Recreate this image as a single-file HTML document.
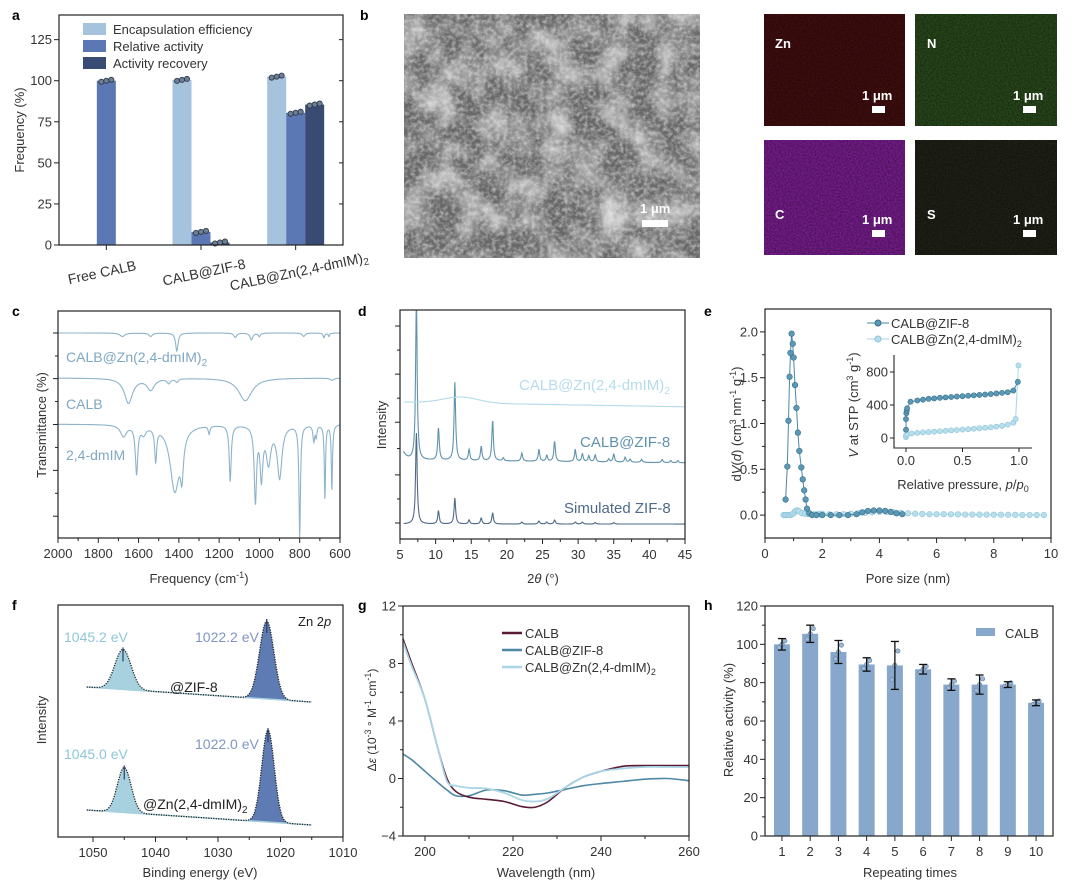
<!DOCTYPE html>
<html><head><meta charset="utf-8">
<style>
html,body{margin:0;padding:0;background:#fff;}
svg{display:block;font-family:"Liberation Sans",Arial,sans-serif;}
</style></head>
<body>
<svg id="fig" width="1080" height="886" viewBox="0 0 1080 886" xmlns="http://www.w3.org/2000/svg">
<defs>
<filter id="sem" x="0" y="0" width="100%" height="100%">
<feTurbulence type="fractalNoise" baseFrequency="0.035" numOctaves="5" seed="3"/>
<feColorMatrix type="matrix" values="0 0 0 0 0.74  0 0 0 0 0.74  0 0 0 0 0.74  1.7 0 0 0 -0.6"/>
</filter>
<filter id="sem2" x="0" y="0" width="100%" height="100%">
<feTurbulence type="fractalNoise" baseFrequency="0.25" numOctaves="2" seed="11"/>
<feColorMatrix type="matrix" values="0 0 0 0 0.8  0 0 0 0 0.8  0 0 0 0 0.8  1.2 0 0 0 -0.45"/>
</filter>
<filter id="noise" x="0" y="0" width="100%" height="100%">
<feTurbulence type="fractalNoise" baseFrequency="0.6" numOctaves="2" seed="7"/>
<feColorMatrix type="matrix" values="0 0 0 0 0  0 0 0 0 0  0 0 0 0 0  0 0 0 0.6 0"/>
</filter>
</defs>
<g>
<rect x="404" y="14" width="296" height="244" fill="#686868"/>
<rect x="404" y="14" width="296" height="244" filter="url(#sem)"/>
<rect x="404" y="14" width="296" height="244" filter="url(#sem2)"/>
<text x="640" y="213" fill="#fff" font-size="13" font-weight="bold">1 μm</text>
<rect x="642" y="220" width="26" height="7" fill="#fff"/>
<rect x="764" y="14" width="141" height="112" fill="#4d1012"/>
<rect x="915" y="14" width="142" height="112" fill="#2f5520"/>
<rect x="764" y="140" width="141" height="115" fill="#8c22a6"/>
<rect x="915" y="140" width="142" height="115" fill="#25261a"/>
<rect x="764" y="14" width="141" height="112" filter="url(#noise)"/>
<rect x="915" y="14" width="142" height="112" filter="url(#noise)"/>
<rect x="764" y="140" width="141" height="115" filter="url(#noise)"/>
<rect x="915" y="140" width="142" height="115" filter="url(#noise)"/>
<text x="775" y="48" fill="#fff" font-size="13" font-weight="bold">Zn</text>
<text x="927" y="48" fill="#fff" font-size="13" font-weight="bold">N</text>
<text x="775" y="219" fill="#fff" font-size="13" font-weight="bold">C</text>
<text x="927" y="219" fill="#fff" font-size="13" font-weight="bold">S</text>
<text x="862" y="100" fill="#fff" font-size="13" font-weight="bold">1 μm</text>
<text x="1013" y="100" fill="#fff" font-size="13" font-weight="bold">1 μm</text>
<text x="862" y="224" fill="#fff" font-size="13" font-weight="bold">1 μm</text>
<text x="1013" y="224" fill="#fff" font-size="13" font-weight="bold">1 μm</text>
<rect x="872" y="106" width="13" height="7" fill="#fff"/>
<rect x="1023" y="106" width="13" height="7" fill="#fff"/>
<rect x="872" y="230" width="13" height="7" fill="#fff"/>
<rect x="1023" y="230" width="13" height="7" fill="#fff"/>
</g>
</svg>
<script>
// ---------- DATA ----------
const aCategories = ['Free CALB','CALB@ZIF-8','CALB@Zn(2,4-dmIM)2'];
const aEncapsulation = [null, 100.5, 102.5];
const aRelActivity = [100, 8, 80.5];
const aRecovery = [null, 1.5, 85.5];
const aTicks = [0,25,50,75,100,125];
const cZnPeaks = [[1680,1.5,15],[1410,8,7],[1540,1.5,10],[1120,2,8],[1040,3,8],[1000,1.5,6],[780,1.5,8],[680,2,5],[655,1.5,4]];
const cCalbPeaks = [[1650,11,25],[1540,5,22],[1450,2,10],[1410,1.5,8],[1070,10,40],[640,1,10]];
const cDmimPeaks = [[1675,5,18],[1610,21,7],[1575,3.5,14],[1515,14.5,6],[1420,29,28],[1385,16,9],[1250,3.5,5],[1145,24.7,6],[1020,33,7],[990,22,8],[955,16,14],[900,23,14],[800,49,4.5],[730,7,5],[718,5,4],[675,33,3.5],[640,29,3.5]];
const cOffsets = [90.3, 70.5, 50.2];
const dSimPeaks = [[7.3,91],[10.4,13],[12.7,26],[14.7,4],[16.4,6],[18.0,11],[22.1,2],[24.5,3],[25.6,2],[26.7,4],[29.6,2],[30.6,2],[32.4,1.5],[35,1.5]];
const dZifPeaks = [[7.3,160],[10.4,32],[12.7,78],[14.7,11],[16.4,14],[18.0,40],[19.5,3],[22.1,8],[24.5,12],[25.6,6],[26.7,20],[29.6,12],[30.6,8],[31.5,6],[32.4,7],[34.3,3],[35.0,8],[36.6,5],[37.3,3],[38.9,3],[41.8,3],[43,2],[44,2]];
const dOffsets = [15, 79, 137];
const eZifX = [0.72,0.78,0.82,0.86,0.89,0.93,0.97,1.0,1.05,1.1,1.15,1.2,1.27,1.32,1.37,1.42,1.47,1.55,1.65,1.8,2.0,2.3,2.6,2.9,3.2,3.4,3.6,3.8,4.0,4.2,4.4,4.6,4.8];
const eZifY = [0.17,0.53,1.03,1.51,1.77,1.98,1.87,1.72,1.42,1.17,0.9,0.7,0.52,0.39,0.27,0.17,0.07,0.02,0.0,0.0,0.0,0.0,0.0,0.0,0.01,0.03,0.045,0.05,0.05,0.045,0.035,0.02,0.01];
const eZnX = [0.65,0.7,0.75,0.8,0.85,0.9,0.95,1.0,1.05,1.1,1.15,1.2,1.3,1.4,1.5,1.6,1.7,1.8,1.9,2.0,2.25,2.5,2.75,3.0,3.25,3.5,3.75,4.0,4.25,4.5,4.75,5.0,5.25,5.5,5.75,6.0,6.25,6.5,6.75,7.0,7.25,7.5,7.75,8.0,8.25,8.5,8.75,9.0,9.25,9.5,9.75];
const eZnY = [0,0,0,0,0,0,0.01,0.02,0.04,0.05,0.05,0.04,0.02,0.015,0.01,0.01,0.01,0.01,0.015,0.015,0.01,0.01,0.01,0.015,0.02,0.025,0.03,0.035,0.035,0.03,0.025,0.02,0.015,0.012,0.01,0.01,0.01,0.008,0.008,0.006,0.006,0.005,0.005,0.004,0.004,0.003,0.003,0.002,0.002,0.001,0.001];
const eInsetZifP = [0,0,0.003,0.006,0.01,0.04,0.1,0.15,0.2,0.25,0.3,0.35,0.4,0.45,0.5,0.55,0.6,0.65,0.7,0.75,0.8,0.85,0.9,0.95,0.99];
const eInsetZifV = [100,230,300,330,360,440,455,465,475,480,487,492,497,502,507,512,517,522,527,533,540,547,555,575,680];
const eInsetZnP = [0,0,0.01,0.05,0.1,0.15,0.2,0.25,0.3,0.35,0.4,0.45,0.5,0.55,0.6,0.65,0.7,0.75,0.8,0.85,0.9,0.95,0.97,0.995];
const eInsetZnV = [10,30,45,55,62,68,72,77,82,87,92,97,102,107,112,118,124,130,138,148,162,185,230,880];
const fZifPeaks = [[1045.2,40,1.3],[1022.2,78,1.15]];
const fZnPeaks = [[1045.0,45,1.1],[1022.0,92,1.0]];
const fBaseTop = [150, 135];
const fBaseBot = [27, 12];
const gWl = [195,197,200,203,205,207,210,214,218,222,225,228,232,236,240,245,250,255,260];
const gCalb = [9.7,8.0,5.5,2.0,0.0,-0.9,-1.3,-1.45,-1.6,-1.95,-2.0,-1.6,-0.6,0.1,0.5,0.85,0.9,0.9,0.9];
const gZn = [9.5,7.8,5.5,2.0,-0.2,-0.5,-0.65,-0.7,-1.0,-1.5,-1.6,-1.4,-0.6,0.1,0.5,0.7,0.8,0.8,0.8];
const gZif = [1.7,1.3,0.5,-0.3,-0.8,-1.2,-1.2,-0.8,-0.85,-1.15,-1.1,-1.0,-0.75,-0.5,-0.35,-0.2,-0.05,0.0,-0.15];
const hTimes = [1,2,3,4,5,6,7,8,9,10];
const hValues = [100,105.5,96,89.5,89,87,79,79,79,69.5];
const hErrors = [3,4.5,6,3.5,12.5,2.5,3,5,1.5,1.5];

// ---------- HELPERS ----------
const NS='http://www.w3.org/2000/svg';
const svg=document.getElementById('fig');
const TC='#333';
function mk(tag,name,attrs,parent){
  const el=document.createElementNS(NS,tag);
  
  
  for(const k in attrs) el.setAttribute(k,attrs[k]);
  (parent||svg).appendChild(el);
  return el;
}
function txt(name,x,y,html,o){
  o=o||{};
  const el=mk('text',name,{x:x,y:y,'font-size':o.fs||13,fill:o.fill||TC,'text-anchor':o.anchor||'start'});
  if(o.bold) el.setAttribute('font-weight','bold');
  if(o.rot) el.setAttribute('transform','rotate('+o.rot+' '+x+' '+y+')');
  el.innerHTML=html;
  return el;
}
function lin(d0,d1,r0,r1){return v=>r0+(v-d0)/(d1-d0)*(r1-r0);}
function frame(name,L,T,R,B){mk('rect',name,{x:L,y:T,width:R-L,height:B-T,fill:'none',stroke:'#222','stroke-width':1.2});}
function xTicks(pre,sx,vals,B,T,minor,lab,fs){
  vals.forEach(v=>{const x=sx(v);
    mk('line',pre+'-xtick',{x1:x,x2:x,y1:B,y2:B+5,stroke:'#222'});
    txt(pre+'-xtick-label',x,B+20,lab?lab(v):v,{anchor:'middle',fs:fs||13});});
  (minor||[]).forEach(v=>{const x=sx(v);mk('line',pre+'-xminor',{x1:x,x2:x,y1:B,y2:B+3,stroke:'#222'});});
}
function yTicks(pre,sy,vals,L,minor,lab,noLabel){
  vals.forEach(v=>{const y=sy(v);
    mk('line',pre+'-ytick',{x1:L-5,x2:L,y1:y,y2:y,stroke:'#222'});
    if(!noLabel) txt(pre+'-ytick-label',L-7,y+4.5,lab?lab(v):v,{anchor:'end'});});
  (minor||[]).forEach(v=>{const y=sy(v);mk('line',pre+'-yminor',{x1:L-3,x2:L,y1:y,y2:y,stroke:'#222'});});
}
function pathD(xs,ys,sx,sy){return xs.map((x,i)=>(i?'L':'M')+sx(x).toFixed(1)+','+sy(ys[i]).toFixed(1)).join('');}
function smoothD(xs,ys,sx,sy){
  const P=xs.map((x,i)=>[sx(x),sy(ys[i])]);let d='M'+P[0][0]+','+P[0][1];
  for(let i=0;i<P.length-1;i++){const p0=P[i-1]||P[i],p1=P[i],p2=P[i+1],p3=P[i+2]||p2;
    d+='C'+(p1[0]+(p2[0]-p0[0])/6)+','+(p1[1]+(p2[1]-p0[1])/6)+' '+(p2[0]-(p3[0]-p1[0])/6)+','+(p2[1]-(p3[1]-p1[1])/6)+' '+p2[0]+','+p2[1];}
  return d;
}
[['a',12,20],['c',12,316],['d',358,316],['e',704,316],['f',12,610],['g',358,610],['h',704,610],['b',360,20]].forEach(l=>txt('panel-label-'+l[0],l[1],l[2],l[0],{bold:true,fs:14,fill:'#000'}));

// ---------- PANEL A ----------
(function(){
  const L=59,T=15,R=343,B=245;
  const sx=lin(-0.5,2.5,L,R), sy=lin(0,140,B,T);
  const bw=19;
  const series=[[aEncapsulation,'#a6c3de','encapsulation'],[aRelActivity,'#5b77b4','relative-activity'],[aRecovery,'#3a4b73','activity-recovery']];
  aCategories.forEach((c,i)=>{
    const present=series.filter(s=>s[0][i]!=null);
    present.forEach((s,j)=>{
      const x=sx(i)-present.length*bw/2+j*bw, v=s[0][i];
      mk('rect','bar-'+s[2],{x:x,y:sy(v),width:bw,height:B-sy(v),fill:s[1]});
      [-5,0,5].forEach((dx,k)=>mk('circle','data-point',{cx:x+bw/2+dx,cy:sy(v+(k-1)*0.6),r:2.6,fill:'#6d7f94',stroke:'#2a3442','stroke-width':0.8}));
    });
  });
  frame('panel-a-axes',L,T,R,B);
  yTicks('a',sy,aTicks,L);
  aTicks.forEach(v=>mk('line','a-ytick-right',{x1:R-4,x2:R,y1:sy(v),y2:sy(v),stroke:'#222'}));
  aCategories.forEach((c,i)=>mk('line','a-xtick',{x1:sx(i),x2:sx(i),y1:B,y2:B+5,stroke:'#222'}));
  txt('x-label-free',103,277,'Free CALB',{anchor:'middle',rot:-12,fs:14});
  txt('x-label-zif',205,277,'CALB@ZIF-8',{anchor:'middle',rot:-12,fs:14});
  txt('x-label-zn',300,276,'CALB@Zn(2,4-dmIM)<tspan font-size="10" dy="3">2</tspan>',{anchor:'middle',rot:-12,fs:14});
  txt('a-y-title',24,130,'Frequency (%)',{anchor:'middle',rot:-90,fs:13});
  series.forEach((s,i)=>{
    mk('rect','legend-swatch-'+s[2],{x:83,y:23+i*17,width:23,height:12,fill:s[1]});
    txt('legend-'+s[2],113,34+i*17,['Encapsulation efficiency','Relative activity','Activity recovery'][i],{fs:13});
  });
})();

// ---------- PANEL C ----------
(function(){
  const L=58,T=311,R=340,B=538;
  const sx=lin(2000,600,L,R), sy=lin(0,100,B,T);
  [cZnPeaks,cCalbPeaks,cDmimPeaks].forEach((pk,k)=>{
    const xs=[],ys=[];
    for(let x=2000;x>=600;x-=1.5){let y=cOffsets[k];pk.forEach(p=>{y-=p[1]*p[2]*p[2]/((x-p[0])*(x-p[0])+p[2]*p[2]);});xs.push(x);ys.push(y);}
    mk('path','ftir-trace-'+k,{d:pathD(xs,ys,sx,sy),fill:'none',stroke:'#8db4cb','stroke-width':1.1});
  });
  frame('panel-c-axes',L,T,R,B);
  xTicks('c',sx,[2000,1800,1600,1400,1200,1000,800,600],B,T,[1900,1700,1500,1300,1100,900,700]);
  yTicks('c',sy,[90.3,70.2,50,29.8,9.6],L,[80.2,60.1,39.9,19.7],null,true);
  txt('c-x-title',199,583,'Frequency (cm<tspan font-size="9" dy="-5">-1</tspan><tspan dy="5">)</tspan>',{anchor:'middle'});
  txt('c-y-title',46,425,'Transmittance (%)',{anchor:'middle',rot:-90});
  txt('label-zn',66,362,'CALB@Zn(2,4-dmIM)<tspan font-size="10" dy="4">2</tspan>',{fill:'#7fa8c2',fs:14});
  txt('label-calb',66,409,'CALB',{fill:'#7fa8c2',fs:14});
  txt('label-dmim',66,460,'2,4-dmIM',{fill:'#7fa8c2',fs:14});
})();

// ---------- PANEL D ----------
(function(){
  const L=400,T=310,R=685,B=539;
  const sx=lin(5,45,L,R), sy=lin(0,229,B,T);
  const clip=mk('clipPath','d-clip',{id:'dclip'});mk('rect','d-clip-rect',{x:L,y:T,width:R-L,height:B-T},clip);
  const g=mk('g','d-traces',{'clip-path':'url(#dclip)'});
  const defs=[[dSimPeaks,dOffsets[0],'#4e6a89','simulated'],[dZifPeaks,dOffsets[1],'#5f93ad','zif8']];
  defs.forEach(dd=>{const xs=[],ys=[];
    for(let x=5.5;x<=45;x+=0.04){let y=dd[1]-(x-5)*0.07*(dd[3]=='zif8'?1:0.02);if(dd[3]=='zif8')y+=8*Math.exp(-(x-5.5)*2);dd[0].forEach(p=>{const w=0.13;y+=p[1]*w*w/((x-p[0])*(x-p[0])+w*w);});xs.push(x);ys.push(y);}
    mk('path','xrd-'+dd[3],{d:pathD(xs,ys,sx,sy),fill:'none',stroke:dd[2],'stroke-width':1.1},g);});
  {const xs=[],ys=[];for(let x=5.5;x<=45;x+=0.1){let y=dOffsets[2]+6*Math.exp(-Math.pow((x-13.5)/3.5,2))-(x-5)*0.12;xs.push(x);ys.push(y);}
   mk('path','xrd-zn',{d:pathD(xs,ys,sx,sy),fill:'none',stroke:'#b3dbeb','stroke-width':1.1},g);}
  frame('panel-d-axes',L,T,R,B);
  xTicks('d',sx,[5,10,15,20,25,30,35,40,45],B,T,[7.5,12.5,17.5,22.5,27.5,32.5,37.5,42.5]);
  yTicks('d',lin(0,1,B,T),[0.07,0.28,0.51,0.72,0.93],L,[0.175,0.395,0.615,0.825],null,true);
  txt('d-x-title',543,583,'2<tspan font-style="italic">θ</tspan> (°)',{anchor:'middle'});
  txt('d-y-title',386,425,'Intensity',{anchor:'middle',rot:-90});
  txt('label-d-zn',519,390,'CALB@Zn(2,4-dmIM)<tspan font-size="10" dy="4">2</tspan>',{fill:'#b5dcec',fs:15});
  txt('label-d-zif',580,447,'CALB@ZIF-8',{fill:'#5f93ad',fs:15});
  txt('label-d-sim',564,513,'Simulated ZIF-8',{fill:'#4e6a89',fs:15});
})();

// ---------- PANEL E ----------
(function(){
  const L=765,T=309,R=1051,B=538;
  const sx=lin(0,10,L,R), sy=lin(-0.25,2.25,B,T);
  mk('path','psd-zn-line',{d:pathD(eZnX,eZnY,sx,sy),fill:'none',stroke:'#a9d6e8','stroke-width':1});
  eZnX.forEach((x,i)=>mk('circle','psd-zn-point',{cx:sx(x),cy:sy(eZnY[i]),r:2.8,fill:'#b8deec',stroke:'#8cc4da','stroke-width':0.6}));
  mk('path','psd-zif-line',{d:pathD(eZifX,eZifY,sx,sy),fill:'none',stroke:'#4a88a6','stroke-width':1});
  eZifX.forEach((x,i)=>mk('circle','psd-zif-point',{cx:sx(x),cy:sy(eZifY[i]),r:2.8,fill:'#5b98b4',stroke:'#356f8a','stroke-width':0.6}));
  frame('panel-e-axes',L,T,R,B);
  xTicks('e',sx,[0,2,4,6,8,10],B,T,[1,3,5,7,9]);
  yTicks('e',sy,[0,0.5,1,1.5,2],L,[0.25,0.75,1.25,1.75],v=>v.toFixed(1));
  txt('e-x-title',908,583,'Pore size (nm)',{anchor:'middle'});
  txt('e-y-title',741,424,'d<tspan font-style="italic">V</tspan>(<tspan font-style="italic">d</tspan>) (cm<tspan font-size="9" dy="-5">3</tspan><tspan dy="5"> nm</tspan><tspan font-size="9" dy="-5">-1</tspan><tspan dy="5"> g</tspan><tspan font-size="9" dy="-5">-1</tspan><tspan dy="5">)</tspan>',{anchor:'middle',rot:-90});
  mk('line','legend-e-zif-line',{x1:867,x2:889,y1:323,y2:323,stroke:'#4a88a6'});
  mk('circle','legend-e-zif-marker',{cx:878,cy:323,r:3,fill:'#5b98b4',stroke:'#356f8a'});
  txt('legend-e-zif',891,328,'CALB@ZIF-8',{fs:13});
  mk('line','legend-e-zn-line',{x1:867,x2:889,y1:339,y2:339,stroke:'#a9d6e8'});
  mk('circle','legend-e-zn-marker',{cx:878,cy:339,r:3,fill:'#b8deec',stroke:'#8cc4da'});
  txt('legend-e-zn',891,344,'CALB@Zn(2,4-dmIM)<tspan font-size="9" dy="3">2</tspan>',{fs:13});
  const iL=894,iT=355,iR=1032,iB=448;
  const ix=lin(0,1,906,1019), iy=lin(0,800,438,372);
  mk('path','inset-zn-line',{d:pathD(eInsetZnP,eInsetZnV,ix,iy),fill:'none',stroke:'#a9d6e8'});
  eInsetZnP.forEach((p,i)=>mk('circle','inset-zn-point',{cx:ix(p),cy:iy(eInsetZnV[i]),r:2.6,fill:'#b8deec',stroke:'#8cc4da','stroke-width':0.6}));
  mk('path','inset-zif-line',{d:pathD(eInsetZifP,eInsetZifV,ix,iy),fill:'none',stroke:'#4a88a6'});
  eInsetZifP.forEach((p,i)=>mk('circle','inset-zif-point',{cx:ix(p),cy:iy(eInsetZifV[i]),r:2.6,fill:'#5b98b4',stroke:'#356f8a','stroke-width':0.6}));
  mk('path','inset-axes',{d:'M'+iL+','+iT+'V'+iB+'H'+iR,fill:'none',stroke:'#222','stroke-width':1.1});
  [0,0.5,1].forEach(v=>{mk('line','inset-xtick',{x1:ix(v),x2:ix(v),y1:iB,y2:iB+4,stroke:'#222'});txt('inset-xtick-label',ix(v),iB+17,v.toFixed(1),{anchor:'middle'});});
  [0,400,800].forEach(v=>{mk('line','inset-ytick',{x1:iL-4,x2:iL,y1:iy(v),y2:iy(v),stroke:'#222'});txt('inset-ytick-label',iL-6,iy(v)+4.5,v,{anchor:'end'});});
  txt('inset-x-title',963,489,'Relative pressure, <tspan font-style="italic">p</tspan>/<tspan font-style="italic">p</tspan><tspan font-size="9" dy="3">0</tspan>',{anchor:'middle'});
  txt('inset-y-title',858,405,'<tspan font-style="italic">V</tspan> at STP (cm<tspan font-size="9" dy="-5">3</tspan><tspan dy="5"> g</tspan><tspan font-size="9" dy="-5">-1</tspan><tspan dy="5">)</tspan>',{anchor:'middle',rot:-90});
})();

// ---------- PANEL F ----------
(function(){
  const L=58,T=605,R=343,B=837;
  const sx=lin(1055.6,1010,L,R), sy=lin(0,232,B,T);
  [[fZifPeaks,fBaseTop,'zif'],[fZnPeaks,fBaseBot,'zn']].forEach(dd=>{
    const base=x=>dd[1][0]+(x-1051)/(1015-1051)*(dd[1][1]-dd[1][0]);
    const pk=(p,x)=>p[1]*Math.exp(-Math.pow((x-p[0])/p[2],2)/2);
    dd[0].forEach((p,k)=>{
      const xs=[],ys=[];for(let x=p[0]+6;x>=p[0]-6;x-=0.1){xs.push(x);ys.push(base(x)+pk(p,x));}
      const d=pathD(xs,ys,sx,sy)+'L'+sx(p[0]-6)+','+sy(base(p[0]-6))+'L'+sx(p[0]+6)+','+sy(base(p[0]+6))+'Z';
      mk('path','xps-fill-'+dd[2]+'-'+k,{d:d,fill:k?'#5e7bb3':'#a7d1df',stroke:'none'});
      mk('line','xps-peak-marker',{x1:sx(p[0]),x2:sx(p[0]),y1:sy(base(p[0])+p[1]+2),y2:sy(base(p[0])+p[1]-12),stroke:'#2a3a66','stroke-width':1.2});
    });
    const xs=[],ys=[];for(let x=1051;x>=1015;x-=0.15){let y=base(x);dd[0].forEach(p=>y+=pk(p,x));xs.push(x);ys.push(y);}
    mk('path','xps-baseline-'+dd[2],{d:pathD([1051,1015],[base(1051),base(1015)],sx,sy),stroke:'#a7d1df','stroke-width':1.5,fill:'none'});
    mk('path','xps-data-'+dd[2],{d:pathD(xs,ys,sx,sy),fill:'none',stroke:'#222','stroke-width':1.3,'stroke-dasharray':'1.2 1.3'});
  });
  frame('panel-f-axes',L,T,R,B);
  xTicks('f',sx,[1050,1040,1030,1020,1010],B,T,[1045,1035,1025,1015]);
  txt('f-x-title',200,877,'Binding energy (eV)',{anchor:'middle'});
  txt('f-y-title',46,720,'Intensity',{anchor:'middle',rot:-90});
  txt('label-1045-2',64,642,'1045.2 eV',{fill:'#8ec6db',fs:14});
  txt('label-1022-2',195,642,'1022.2 eV',{fill:'#7f95c4',fs:14});
  txt('label-zn2p',298,626,'Zn 2<tspan font-style="italic">p</tspan>',{fill:'#222',fs:13});
  txt('label-at-zif',170,692,'@ZIF-8',{fill:'#222',fs:14});
  txt('label-1022-0',195,749,'1022.0 eV',{fill:'#7f95c4',fs:14});
  txt('label-1045-0',64,759,'1045.0 eV',{fill:'#8ec6db',fs:14});
  txt('label-at-zn',143,809,'@Zn(2,4-dmIM)<tspan font-size="10" dy="4">2</tspan>',{fill:'#222',fs:14});
})();

// ---------- PANEL G ----------
(function(){
  const L=403,T=606,R=689,B=836;
  const sx=lin(195,260,L,R), sy=lin(-4,12,B,T);
  mk('path','cd-zif',{d:smoothD(gWl,gZif,sx,sy),fill:'none',stroke:'#4f88a4','stroke-width':1.6});
  mk('path','cd-calb',{d:smoothD(gWl,gCalb,sx,sy),fill:'none',stroke:'#5a1a36','stroke-width':1.6});
  mk('path','cd-zn',{d:smoothD(gWl,gZn,sx,sy),fill:'none',stroke:'#a9d5e6','stroke-width':1.8});
  frame('panel-g-axes',L,T,R,B);
  xTicks('g',sx,[200,220,240,260],B,T,[210,230,250]);
  yTicks('g',sy,[-4,0,4,8,12],L,[-2,2,6,10],v=>v<0?'\u2212'+(-v):v);
  txt('g-x-title',546,877,'Wavelength (nm)',{anchor:'middle'});
  txt('g-y-title',376,720,'Δ<tspan font-style="italic">ε</tspan> (10<tspan font-size="9" dy="-5">-3</tspan><tspan dy="5"> ° M</tspan><tspan font-size="9" dy="-5">-1</tspan><tspan dy="5"> cm</tspan><tspan font-size="9" dy="-5">-1</tspan><tspan dy="5">)</tspan>',{anchor:'middle',rot:-90,fs:12});
  [['#5a1a36','CALB'],['#4f88a4','CALB@ZIF-8'],['#a9d5e6','CALB@Zn(2,4-dmIM)<tspan font-size="9" dy="3">2</tspan>']].forEach((l,i)=>{
    mk('line','legend-g-line',{x1:502,x2:522,y1:633+i*17,y2:633+i*17,stroke:l[0],'stroke-width':2.5});
    txt('legend-g-label',525,638+i*17,l[1],{fs:13});
  });
})();

// ---------- PANEL H ----------
(function(){
  const L=765,T=606,R=1053,B=836;
  const sx=lin(0.4,10.6,L,R), sy=lin(0,120,B,T);
  const bw=16;
  hTimes.forEach((t,i)=>{
    const x=sx(t), v=hValues[i], e=hErrors[i];
    mk('rect','bar-time-'+t,{x:x-bw/2,y:sy(v),width:bw,height:B-sy(v),fill:'#87a8cb'});
    [-3,0,3].forEach((dx,k)=>mk('circle','h-data-point',{cx:x+dx,cy:sy(v+(k-1)*e*0.6),r:2.2,fill:'#9db7d4',stroke:'#5f7fa4','stroke-width':0.6}));
    mk('line','error-bar',{x1:x,x2:x,y1:sy(v-e),y2:sy(v+e),stroke:'#111','stroke-width':1.3});
    mk('line','error-cap-top',{x1:x-4,x2:x+4,y1:sy(v+e),y2:sy(v+e),stroke:'#111','stroke-width':1.3});
    mk('line','error-cap-bottom',{x1:x-4,x2:x+4,y1:sy(v-e),y2:sy(v-e),stroke:'#111','stroke-width':1.3});
  });
  frame('panel-h-axes',L,T,R,B);
  xTicks('h',sx,hTimes,B,T);
  yTicks('h',sy,[0,20,40,60,80,100,120],L,[10,30,50,70,90,110]);
  txt('h-x-title',910,877,'Repeating times',{anchor:'middle'});
  txt('h-y-title',733,720,'Relative activity (%)',{anchor:'middle',rot:-90});
  mk('rect','legend-h-swatch',{x:976,y:628,width:19,height:8,fill:'#87a8cb'});
  txt('legend-h-label',1005,638,'CALB',{fs:13});
})();
</script>
</body></html>
